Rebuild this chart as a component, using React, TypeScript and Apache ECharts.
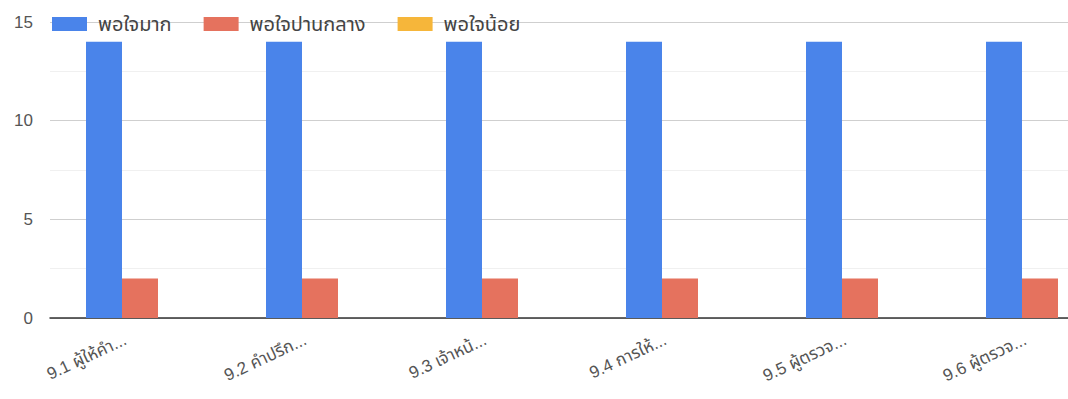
import React, { useEffect, useRef } from "react";
import * as echarts from "echarts";

const categories = [
  "9.1 ผู้ให้คำ...",
  "9.2 คำปรึก...",
  "9.3 เจ้าหน้...",
  "9.4 การให้...",
  "9.5 ผู้ตรวจ...",
  "9.6 ผู้ตรวจ...",
];
const seriesNames = ["พอใจมาก", "พอใจปานกลาง", "พอใจน้อย"];
const veryValues = [14, 14, 14, 14, 14, 14];
const midValues = [2, 2, 2, 2, 2, 2];
const lowValues = [0, 0, 0, 0, 0, 0];
const colors = ["#4a84ea", "#e5725e", "#f6b63a"];

const FONT = "Arial, 'Liberation Sans', 'Noto Sans', 'Noto Sans Thai', sans-serif";

export default function App() {
  const ref = useRef<HTMLDivElement>(null);
  useEffect(() => {
    if (!ref.current) return;
    const chart = echarts.init(ref.current, null, { renderer: "svg" });
    const data = [veryValues, midValues, lowValues];
    chart.setOption({
      animation: false,
      backgroundColor: "#ffffff",
      textStyle: { fontFamily: FONT },
      legend: {
        left: 52,
        top: 14,
        padding: 0,
        itemWidth: 35,
        itemHeight: 14,
        itemGap: 32,
        icon: "rect",
        textStyle: { fontSize: 20, color: "#444", fontFamily: FONT, padding: [0, 0, 0, 6] },
        data: seriesNames,
      },
      grid: {
        left: 50,
        top: 22,
        bottom: 81,
        right: -62,
        containLabel: false,
        outerBoundsMode: "none",
      },
      xAxis: {
        type: "category",
        data: categories,
        axisTick: { show: false },
        axisLine: { lineStyle: { color: "#333", width: 1.5 } },
        axisLabel: {
          rotate: 25,
          interval: 0,
          margin: 14,
          fontSize: 17,
          color: "#555",
          fontFamily: FONT,
          align: "right",
          padding: [0, 16, 0, 0],
        },
      },
      yAxis: {
        type: "value",
        min: 0,
        max: 15,
        interval: 5,
        axisLine: { show: false },
        axisTick: { show: false },
        axisLabel: { fontSize: 17, color: "#555", margin: 17, fontFamily: FONT },
        splitLine: { lineStyle: { color: "#cfcfcf", width: 1 } },
        minorTick: { show: false, splitNumber: 2 },
        minorSplitLine: { show: true, lineStyle: { color: "#f0f0f0", width: 1 } },
      },
      series: seriesNames.map((name, i) => ({
        name,
        type: "bar",
        data: data[i],
        barGap: "0%",
        barCategoryGap: "40%",
        itemStyle: { color: colors[i] },
      })),
    });
    return () => chart.dispose();
  }, []);
  return (
    <div
      ref={ref}
      style={{ position: "fixed", left: 0, top: 0, width: 1068, height: 399 }}
    />
  );
}
